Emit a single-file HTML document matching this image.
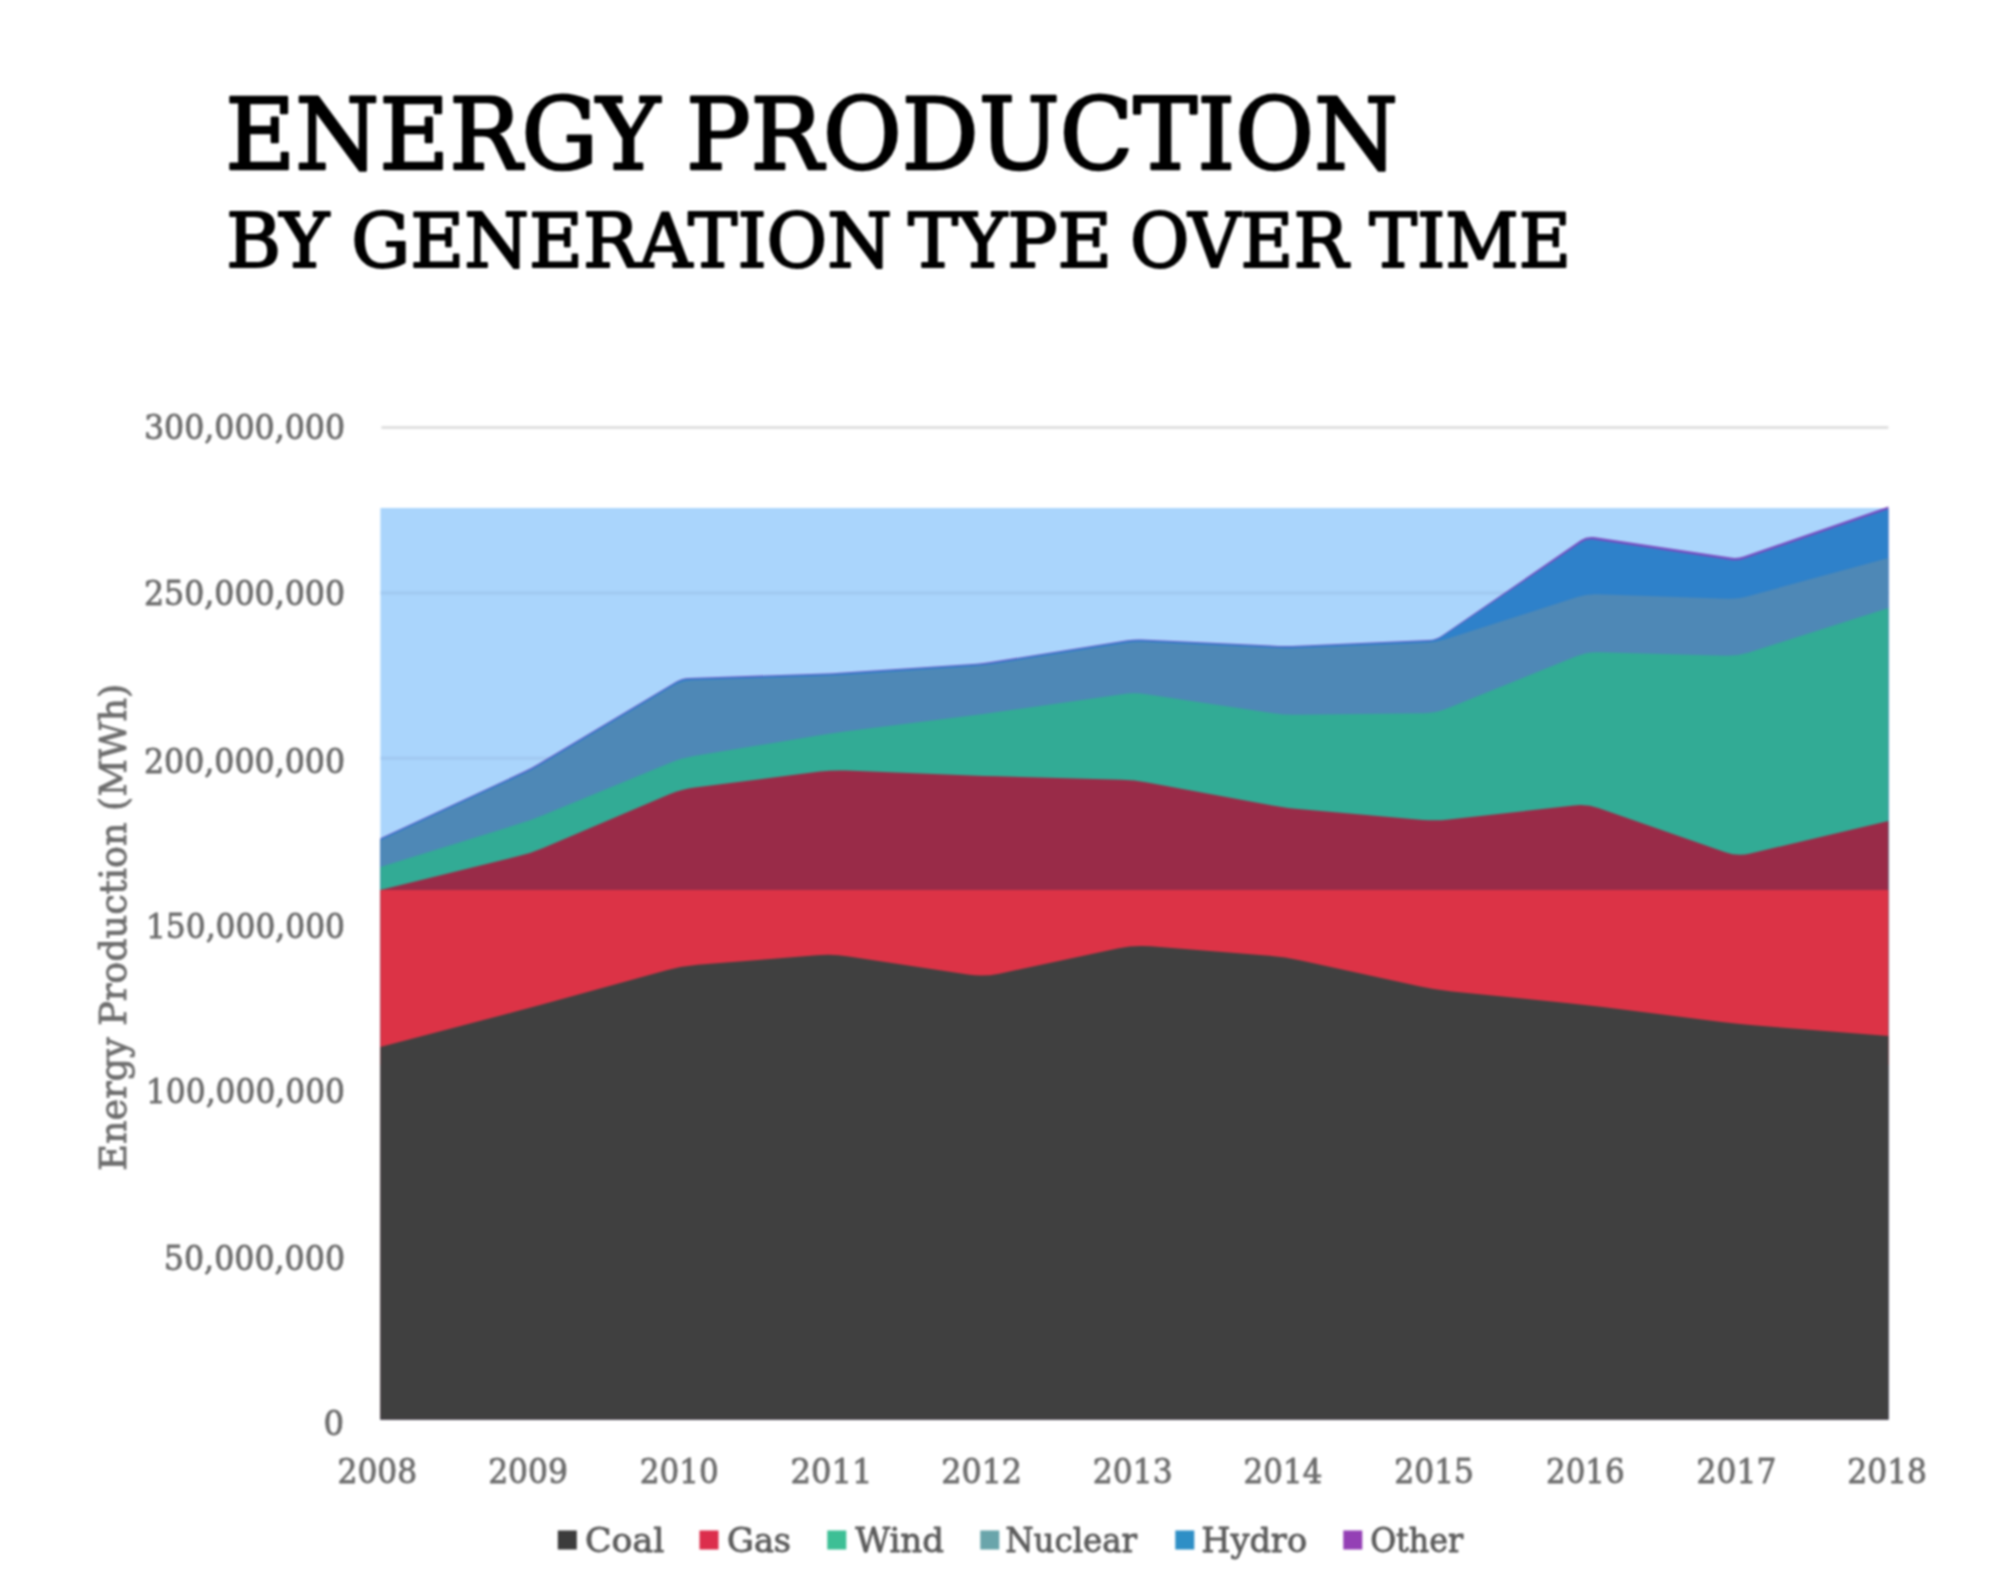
<!DOCTYPE html>
<html lang="en"><head><meta charset="utf-8"><title>Energy Production by Generation Type Over Time</title>
<style>
html,body{margin:0;padding:0;background:#fff}
body{width:2000px;height:1594px;overflow:hidden}
svg{display:block;filter:blur(1.1px)}
</style></head><body>
<svg width="2000" height="1594" viewBox="0 0 2000 1594">
<rect width="2000" height="1594" fill="#ffffff"/>
<line x1="381.4" x2="1888.4" y1="1254.3" y2="1254.3" stroke="#e0e0e0" stroke-width="3"/>
<line x1="381.4" x2="1888.4" y1="1088.9" y2="1088.9" stroke="#e0e0e0" stroke-width="3"/>
<line x1="381.4" x2="1888.4" y1="923.6" y2="923.6" stroke="#e0e0e0" stroke-width="3"/>
<line x1="381.4" x2="1888.4" y1="758.3" y2="758.3" stroke="#e0e0e0" stroke-width="3"/>
<line x1="381.4" x2="1888.4" y1="592.9" y2="592.9" stroke="#e0e0e0" stroke-width="3"/>
<line x1="381.4" x2="1888.4" y1="427.6" y2="427.6" stroke="#e0e0e0" stroke-width="3"/>
<defs><clipPath id="cp"><rect x="380.4" y="400" width="1508.0" height="1019.6"/></clipPath></defs>
<g clip-path="url(#cp)">
<rect x="376.4" y="508" width="1516.0" height="382" fill="#aad5fc"/>
<line x1="380.4" x2="1888.4" y1="758.3" y2="758.3" stroke="#a2caf2" stroke-width="3.5"/>
<line x1="380.4" x2="1888.4" y1="592.9" y2="592.9" stroke="#a2caf2" stroke-width="3.5"/>
<path d="M376.4 1423.6 L376.4 838.2 L380.4 838.2 L524.9 771.1 Q531.2 768.2 537.2 764.6 L676.0 681.8 Q682.0 678.2 689.0 678.0 L825.8 673.4 Q832.8 673.2 839.8 672.7 L976.6 663.7 Q983.6 663.2 990.5 662.1 L1127.5 640.3 Q1134.4 639.2 1141.4 639.5 L1278.2 645.9 Q1285.2 646.2 1292.2 645.9 L1429.0 640.0 Q1436.0 639.7 1441.8 635.7 L1581.0 540.1 Q1586.8 536.1 1593.7 537.1 L1730.7 557.6 Q1737.6 558.6 1744.2 556.3 L1888.4 506.6 L1892.4 506.6 L1892.4 1423.6 Z" fill="#7a4cc0"/>
<path d="M376.4 1423.6 L376.4 839.0 L380.4 839.0 L524.9 771.9 Q531.2 769.0 537.2 765.4 L676.0 682.6 Q682.0 679.0 689.0 678.8 L825.8 674.2 Q832.8 674.0 839.8 673.5 L976.6 664.5 Q983.6 664.0 990.5 662.9 L1127.5 641.1 Q1134.4 640.0 1141.4 640.3 L1278.2 646.7 Q1285.2 647.0 1292.2 646.7 L1429.0 640.8 Q1436.0 640.5 1441.8 636.6 L1581.0 542.4 Q1586.8 538.5 1593.7 539.5 L1730.7 560.0 Q1737.6 561.0 1744.2 558.7 L1888.4 509.0 L1892.4 509.0 L1892.4 1423.6 Z" fill="#2e81ca"/>
<path d="M376.4 1423.6 L376.4 840.6 L380.4 840.6 L522.1 774.8 Q531.2 770.6 539.8 765.5 L673.4 685.7 Q682.0 680.6 692.0 680.3 L822.8 675.9 Q832.8 675.6 842.8 674.9 L973.6 666.3 Q983.6 665.6 993.5 664.0 L1124.5 643.2 Q1134.4 641.6 1144.4 642.1 L1275.2 648.1 Q1285.2 648.6 1295.2 648.2 L1426.0 642.7 Q1436.0 642.3 1445.5 639.2 L1577.3 597.1 Q1586.8 594.0 1596.8 594.3 L1727.6 598.7 Q1737.6 599.0 1747.2 596.4 L1888.4 558.0 L1892.4 558.0 L1892.4 1423.6 Z" fill="#4e88b6"/>
<path d="M376.4 1423.6 L376.4 867.0 L380.4 867.0 L519.7 823.6 Q531.2 820.0 542.3 815.4 L670.9 762.6 Q682.0 758.0 693.8 756.0 L821.0 735.0 Q832.8 733.0 844.7 731.5 L971.7 715.5 Q983.6 714.0 995.5 712.3 L1122.5 694.2 Q1134.4 692.5 1146.3 694.3 L1273.3 713.2 Q1285.2 715.0 1297.2 714.8 L1424.0 713.2 Q1436.0 713.0 1447.1 708.5 L1575.7 656.5 Q1586.8 652.0 1598.8 652.3 L1725.6 655.7 Q1737.6 656.0 1749.0 652.4 L1888.4 608.0 L1892.4 608.0 L1892.4 1423.6 Z" fill="#32ab95"/>
<path d="M376.4 1423.6 L376.4 890.0 L380.4 890.0 L518.6 856.1 Q531.2 853.0 543.2 847.9 L670.0 794.1 Q682.0 789.0 694.9 787.4 L819.9 771.6 Q832.8 770.0 845.8 770.5 L970.6 775.5 Q983.6 776.0 996.6 776.3 L1121.4 779.7 Q1134.4 780.0 1147.2 782.4 L1272.4 805.6 Q1285.2 808.0 1298.2 809.1 L1423.0 819.9 Q1436.0 821.0 1448.9 819.5 L1573.9 805.5 Q1586.8 804.0 1599.1 808.3 L1725.3 852.2 Q1737.6 856.5 1750.3 853.5 L1888.4 821.0 L1892.4 821.0 L1892.4 1423.6 Z" fill="#992b48"/>
<rect x="376.4" y="890" width="1516.0" height="175" fill="#dc3346"/>
<path d="M376.4 1423.6 L376.4 1047.0 L380.4 1047.0 L515.7 1011.6 Q531.2 1007.5 546.6 1003.3 L666.6 970.2 Q682.0 966.0 697.9 964.7 L816.9 955.3 Q832.8 954.0 848.6 956.4 L967.8 974.6 Q983.6 977.0 999.3 973.7 L1118.7 948.3 Q1134.4 945.0 1150.3 946.3 L1269.3 955.7 Q1285.2 957.0 1300.8 960.4 L1420.4 986.6 Q1436.0 990.0 1451.9 991.6 L1570.9 1003.4 Q1586.8 1005.0 1602.7 1007.0 L1721.7 1022.0 Q1737.6 1024.0 1753.5 1025.3 L1888.4 1036.0 L1892.4 1036.0 L1892.4 1423.6 Z" fill="#404040"/>
</g>
<text id="t0" x="225.15" y="169.3" font-size="98.3" fill="#000" font-family="'DejaVu Serif','Liberation Serif',serif" textLength="434.81" lengthAdjust="spacingAndGlyphs" stroke="#000" stroke-width="2.60" stroke-linejoin="round">ENERGY</text>
<text id="t1" x="685.96" y="169.3" font-size="98.3" fill="#000" font-family="'DejaVu Serif','Liberation Serif',serif" textLength="712.07" lengthAdjust="spacingAndGlyphs" stroke="#000" stroke-width="2.60" stroke-linejoin="round">PRODUCTION</text>
<text id="t2" x="226.13" y="266.9" font-size="74.8" fill="#000" font-family="'DejaVu Serif','Liberation Serif',serif" textLength="102.81" lengthAdjust="spacingAndGlyphs" stroke="#000" stroke-width="2.20" stroke-linejoin="round">BY</text>
<text id="t3" x="351.17" y="266.9" font-size="74.8" fill="#000" font-family="'DejaVu Serif','Liberation Serif',serif" textLength="540.82" lengthAdjust="spacingAndGlyphs" stroke="#000" stroke-width="2.20" stroke-linejoin="round">GENERATION</text>
<text id="t4" x="908.01" y="266.9" font-size="74.8" fill="#000" font-family="'DejaVu Serif','Liberation Serif',serif" textLength="204.14" lengthAdjust="spacingAndGlyphs" stroke="#000" stroke-width="2.20" stroke-linejoin="round">TYPE</text>
<text id="t5" x="1130.01" y="266.9" font-size="74.8" fill="#000" font-family="'DejaVu Serif','Liberation Serif',serif" textLength="218.00" lengthAdjust="spacingAndGlyphs" stroke="#000" stroke-width="2.20" stroke-linejoin="round">OVER</text>
<text id="t6" x="1369.22" y="266.9" font-size="74.8" fill="#000" font-family="'DejaVu Serif','Liberation Serif',serif" textLength="201.89" lengthAdjust="spacingAndGlyphs" stroke="#000" stroke-width="2.20" stroke-linejoin="round">TIME</text>
<text id="t7" x="323.60" y="1435.3" font-size="34.2" fill="#6e6e6e" font-family="'DejaVu Serif Condensed','DejaVu Serif','Liberation Serif',serif" textLength="20.56" lengthAdjust="spacingAndGlyphs" stroke="#6e6e6e" stroke-width="0.80" stroke-linejoin="round">0</text>
<text id="t8" x="163.87" y="1270.3" font-size="34.2" fill="#6e6e6e" font-family="'DejaVu Serif Condensed','DejaVu Serif','Liberation Serif',serif" textLength="181.15" lengthAdjust="spacingAndGlyphs" stroke="#6e6e6e" stroke-width="0.80" stroke-linejoin="round">50,000,000</text>
<text id="t9" x="145.91" y="1102.9" font-size="34.2" fill="#6e6e6e" font-family="'DejaVu Serif Condensed','DejaVu Serif','Liberation Serif',serif" textLength="199.12" lengthAdjust="spacingAndGlyphs" stroke="#6e6e6e" stroke-width="0.80" stroke-linejoin="round">100,000,000</text>
<text id="t10" x="145.91" y="938.2" font-size="34.2" fill="#6e6e6e" font-family="'DejaVu Serif Condensed','DejaVu Serif','Liberation Serif',serif" textLength="199.12" lengthAdjust="spacingAndGlyphs" stroke="#6e6e6e" stroke-width="0.80" stroke-linejoin="round">150,000,000</text>
<text id="t11" x="143.95" y="773.0" font-size="34.2" fill="#6e6e6e" font-family="'DejaVu Serif Condensed','DejaVu Serif','Liberation Serif',serif" textLength="201.12" lengthAdjust="spacingAndGlyphs" stroke="#6e6e6e" stroke-width="0.80" stroke-linejoin="round">200,000,000</text>
<text id="t12" x="143.95" y="605.0" font-size="34.2" fill="#6e6e6e" font-family="'DejaVu Serif Condensed','DejaVu Serif','Liberation Serif',serif" textLength="201.12" lengthAdjust="spacingAndGlyphs" stroke="#6e6e6e" stroke-width="0.80" stroke-linejoin="round">250,000,000</text>
<text id="t13" x="143.95" y="439.4" font-size="34.2" fill="#6e6e6e" font-family="'DejaVu Serif Condensed','DejaVu Serif','Liberation Serif',serif" textLength="201.12" lengthAdjust="spacingAndGlyphs" stroke="#6e6e6e" stroke-width="0.80" stroke-linejoin="round">300,000,000</text>
<text id="t14" x="337.48" y="1482.6" font-size="34.2" fill="#6e6e6e" font-family="'DejaVu Serif Condensed','DejaVu Serif','Liberation Serif',serif" textLength="79.80" lengthAdjust="spacingAndGlyphs" stroke="#6e6e6e" stroke-width="0.80" stroke-linejoin="round">2008</text>
<text id="t15" x="488.16" y="1482.6" font-size="34.2" fill="#6e6e6e" font-family="'DejaVu Serif Condensed','DejaVu Serif','Liberation Serif',serif" textLength="79.84" lengthAdjust="spacingAndGlyphs" stroke="#6e6e6e" stroke-width="0.80" stroke-linejoin="round">2009</text>
<text id="t16" x="639.84" y="1482.6" font-size="34.2" fill="#6e6e6e" font-family="'DejaVu Serif Condensed','DejaVu Serif','Liberation Serif',serif" textLength="78.81" lengthAdjust="spacingAndGlyphs" stroke="#6e6e6e" stroke-width="0.80" stroke-linejoin="round">2010</text>
<text id="t17" x="790.51" y="1482.6" font-size="34.2" fill="#6e6e6e" font-family="'DejaVu Serif Condensed','DejaVu Serif','Liberation Serif',serif" textLength="82.02" lengthAdjust="spacingAndGlyphs" stroke="#6e6e6e" stroke-width="0.80" stroke-linejoin="round">2011</text>
<text id="t18" x="941.20" y="1482.6" font-size="34.2" fill="#6e6e6e" font-family="'DejaVu Serif Condensed','DejaVu Serif','Liberation Serif',serif" textLength="80.89" lengthAdjust="spacingAndGlyphs" stroke="#6e6e6e" stroke-width="0.80" stroke-linejoin="round">2012</text>
<text id="t19" x="1092.88" y="1482.6" font-size="34.2" fill="#6e6e6e" font-family="'DejaVu Serif Condensed','DejaVu Serif','Liberation Serif',serif" textLength="79.84" lengthAdjust="spacingAndGlyphs" stroke="#6e6e6e" stroke-width="0.80" stroke-linejoin="round">2013</text>
<text id="t20" x="1243.59" y="1482.6" font-size="34.2" fill="#6e6e6e" font-family="'DejaVu Serif Condensed','DejaVu Serif','Liberation Serif',serif" textLength="78.74" lengthAdjust="spacingAndGlyphs" stroke="#6e6e6e" stroke-width="0.80" stroke-linejoin="round">2014</text>
<text id="t21" x="1394.23" y="1482.6" font-size="34.2" fill="#6e6e6e" font-family="'DejaVu Serif Condensed','DejaVu Serif','Liberation Serif',serif" textLength="79.84" lengthAdjust="spacingAndGlyphs" stroke="#6e6e6e" stroke-width="0.80" stroke-linejoin="round">2015</text>
<text id="t22" x="1546.00" y="1482.6" font-size="34.2" fill="#6e6e6e" font-family="'DejaVu Serif Condensed','DejaVu Serif','Liberation Serif',serif" textLength="78.73" lengthAdjust="spacingAndGlyphs" stroke="#6e6e6e" stroke-width="0.80" stroke-linejoin="round">2016</text>
<text id="t23" x="1696.60" y="1482.6" font-size="34.2" fill="#6e6e6e" font-family="'DejaVu Serif Condensed','DejaVu Serif','Liberation Serif',serif" textLength="79.82" lengthAdjust="spacingAndGlyphs" stroke="#6e6e6e" stroke-width="0.80" stroke-linejoin="round">2017</text>
<text id="t24" x="1847.28" y="1482.6" font-size="34.2" fill="#6e6e6e" font-family="'DejaVu Serif Condensed','DejaVu Serif','Liberation Serif',serif" textLength="79.81" lengthAdjust="spacingAndGlyphs" stroke="#6e6e6e" stroke-width="0.80" stroke-linejoin="round">2018</text>
<text id="ylab" transform="translate(126 1170.8) rotate(-90)" font-size="37.0" fill="#6e6e6e" stroke="#6e6e6e" stroke-width="0.8" font-family="'DejaVu Serif Condensed','DejaVu Serif','Liberation Serif',serif" textLength="487" lengthAdjust="spacingAndGlyphs">Energy Production (MWh)</text>
<rect x="557.8" y="1530.5" width="19" height="19" fill="#3c3c3c"/>
<text id="t25" x="584.97" y="1552.0" font-size="34.2" fill="#5c5c5c" font-family="'DejaVu Serif Condensed','DejaVu Serif','Liberation Serif',serif" textLength="79.28" lengthAdjust="spacingAndGlyphs" stroke="#5c5c5c" stroke-width="0.80" stroke-linejoin="round">Coal</text>
<rect x="699.5" y="1530.5" width="19" height="19" fill="#dc2e4c"/>
<text id="t26" x="727.13" y="1552.0" font-size="34.2" fill="#5c5c5c" font-family="'DejaVu Serif Condensed','DejaVu Serif','Liberation Serif',serif" textLength="63.95" lengthAdjust="spacingAndGlyphs" stroke="#5c5c5c" stroke-width="0.80" stroke-linejoin="round">Gas</text>
<rect x="827.3" y="1530.5" width="19" height="19" fill="#3dbf95"/>
<text id="t27" x="855.20" y="1552.0" font-size="34.2" fill="#5c5c5c" font-family="'DejaVu Serif Condensed','DejaVu Serif','Liberation Serif',serif" textLength="88.82" lengthAdjust="spacingAndGlyphs" stroke="#5c5c5c" stroke-width="0.80" stroke-linejoin="round">Wind</text>
<rect x="980.3" y="1530.5" width="19" height="19" fill="#6aa5ab"/>
<text id="t28" x="1005.21" y="1552.0" font-size="34.2" fill="#5c5c5c" font-family="'DejaVu Serif Condensed','DejaVu Serif','Liberation Serif',serif" textLength="131.82" lengthAdjust="spacingAndGlyphs" stroke="#5c5c5c" stroke-width="0.80" stroke-linejoin="round">Nuclear</text>
<rect x="1175.3" y="1530.5" width="19" height="19" fill="#2f8fc6"/>
<text id="t29" x="1201.19" y="1552.0" font-size="34.2" fill="#5c5c5c" font-family="'DejaVu Serif Condensed','DejaVu Serif','Liberation Serif',serif" textLength="105.90" lengthAdjust="spacingAndGlyphs" stroke="#5c5c5c" stroke-width="0.80" stroke-linejoin="round">Hydro</text>
<rect x="1343.3" y="1530.5" width="19" height="19" fill="#9440b5"/>
<text id="t30" x="1370.18" y="1552.0" font-size="34.2" fill="#5c5c5c" font-family="'DejaVu Serif Condensed','DejaVu Serif','Liberation Serif',serif" textLength="92.85" lengthAdjust="spacingAndGlyphs" stroke="#5c5c5c" stroke-width="0.80" stroke-linejoin="round">Other</text>
</svg>
</body></html>
